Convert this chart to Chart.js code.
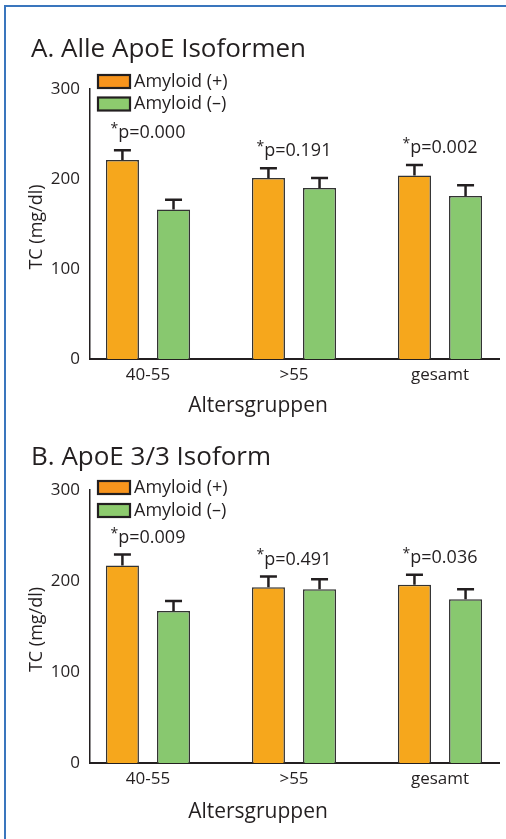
<!DOCTYPE html>
<html><head><meta charset="utf-8">
<script src="https://cdn.jsdelivr.net/npm/chart.js@4.4.0/dist/chart.umd.min.js"></script>
<style>
html,body{margin:0;padding:0;background:#fff;overflow:hidden}
#page{position:relative;width:506px;height:839px;}
#frame{position:absolute;left:4px;top:5px;right:0;bottom:0;border-left:2px solid #3a76bd;border-top:2px solid #3a76bd;}
.c{position:absolute;left:0;width:506px;}
</style></head><body>
<div id="page"><div id="frame"></div>
<div class="c" style="top:0;height:420px"><canvas id="cA"></canvas></div>
<div class="c" style="top:420px;height:419px"><canvas id="cB"></canvas></div>
</div>
<script>
// ---- data ----
const categories = ['40-55', '>55', 'gesamt'];
const seriesNames = ['Amyloid (+)', 'Amyloid (\u2013)'];
const yTicks = [0, 100, 200, 300];

const allPosMean = [221, 201, 204];
const allPosErr  = [11, 11, 11.5];
const allNegMean = [166, 190, 181];
const allNegErr  = [11, 11, 12];
const allPValues = ['0.000', '0.191', '0.002'];

const e33PosMean = [217, 193, 196];
const e33PosErr  = [12, 12, 11];
const e33NegMean = [167, 191, 180];
const e33NegErr  = [11, 11, 11];
const e33PValues = ['0.009', '0.491', '0.036'];

// ---- styling ----
const FONT = "'Open Sans', 'Noto Sans', sans-serif";
const INK = '#231f20';
const ORANGE = '#F6A71C';
const GREEN = '#88C86F';
const ORANGE_LEG = '#F7941D';
const GREEN_LEG = '#8DCB6E';

function makeChart(id, cfg) {
  const ds = (label, means, color) => ({
    label,
    data: means.map((v, i) => ({ x: i, y: v })),
    backgroundColor: color,
    borderColor: '#333',
    borderWidth: 1.5,
    categoryPercentage: 0.7,
    barPercentage: 0.647
  });
  const errs = [cfg.posErr, cfg.negErr];

  const deco = {
    id: 'deco',
    afterDatasetsDraw(chart) {
      const ctx = chart.ctx;
      const ys = chart.scales.y, xs = chart.scales.x;
      ctx.save();
      ctx.strokeStyle = INK;
      ctx.lineWidth = 2.5;
      const errTops = [];
      chart.data.datasets.forEach((d, di) => {
        const meta = chart.getDatasetMeta(di);
        errTops[di] = [];
        meta.data.forEach((bar, i) => {
          const top = ys.getPixelForValue(d.data[i].y + errs[di][i]);
          errTops[di][i] = top;
          ctx.beginPath();
          ctx.moveTo(bar.x, bar.y);
          ctx.lineTo(bar.x, top);
          ctx.moveTo(bar.x - 8.5, top);
          ctx.lineTo(bar.x + 8.5, top);
          ctx.stroke();
        });
      });
      // p-value labels
      ctx.fillStyle = INK;
      ctx.textBaseline = 'middle';
      cfg.pvals.forEach((p, i) => {
        const cx = xs.getPixelForValue(i);
        const cy = errTops[0][i] - 17;
        ctx.font = '14px ' + FONT;
        const sw = ctx.measureText('*').width;
        ctx.font = '18px ' + FONT;
        const txt = 'p=' + p;
        const tw = ctx.measureText(txt).width;
        const x0 = cx - (sw + tw) / 2;
        ctx.font = '14px ' + FONT;
        ctx.textAlign = 'left';
        ctx.fillText('*', x0, cy - 4);
        ctx.font = '18px ' + FONT;
        ctx.fillText(txt, x0 + sw, cy);
      });
      ctx.restore();
    },
    afterDraw(chart) {
      const ctx = chart.ctx;
      const ca = chart.chartArea;
      ctx.save();
      ctx.fillStyle = INK;
      // title
      ctx.font = '26px ' + FONT;
      ctx.textAlign = 'left';
      ctx.textBaseline = 'alphabetic';
      ctx.fillText(cfg.title, 31, cfg.titleBaseline);
      // legend
      const legCols = [ORANGE_LEG, GREEN_LEG];
      ctx.textBaseline = 'middle';
      ctx.font = '18px ' + FONT;
      seriesNames.forEach((n, k) => {
        const cy = cfg.legendY[k];
        ctx.fillStyle = legCols[k];
        ctx.fillRect(98, cy - 6.5, 32, 13);
        ctx.strokeStyle = INK;
        ctx.lineWidth = 2.2;
        ctx.strokeRect(98, cy - 6.5, 32, 13);
        ctx.fillStyle = INK;
        ctx.fillText(n, 134, cy);
      });
      // axis titles
      ctx.font = '21px ' + FONT;
      ctx.textAlign = 'center';
      ctx.fillText('Altersgruppen', 258, cfg.xTitleY);
      ctx.save();
      ctx.translate(37, (ca.top + ca.bottom) / 2 + 3);
      ctx.rotate(-Math.PI / 2);
      ctx.font = '18px ' + FONT;
      ctx.fillText('TC (mg/dl)', 0, 0);
      ctx.restore();
      ctx.restore();
    }
  };

  return new Chart(document.getElementById(id), {
    type: 'bar',
    data: { datasets: [ds(seriesNames[0], cfg.pos, ORANGE), ds(seriesNames[1], cfg.neg, GREEN)] },
    options: {
      responsive: true,
      maintainAspectRatio: false,
      animation: false,
      devicePixelRatio: 1,
      layout: { padding: { top: cfg.areaTop, right: 7, left: 0, bottom: 0 } },
      plugins: { legend: { display: false }, title: { display: false }, tooltip: { enabled: false } },
      scales: {
        x: {
          type: 'linear', min: -0.397, max: 2.404, offset: false,
          grid: { display: false, drawTicks: false, offset: false },
          border: { display: true, color: INK, width: 2 },
          ticks: { padding: 6, color: INK, font: { family: FONT, size: 17 }, callback: v => categories[v] },
          afterBuildTicks: s => { s.ticks = categories.map((c, i) => ({ value: i })); },
          afterFit: s => { s.height = cfg.h - cfg.areaBottom; }
        },
        y: {
          min: yTicks[0], max: yTicks[yTicks.length - 1],
          grid: { display: false, drawTicks: false },
          border: { display: true, color: INK, width: 1.5 },
          ticks: { stepSize: 100, padding: 10, color: INK, font: { family: FONT, size: 17 } },
          afterBuildTicks: s => { s.ticks = yTicks.map(v => ({ value: v })); },
          afterFit: s => { s.width = 90; }
        }
      }
    },
    plugins: [deco]
  });
}

makeChart('cA', {
  title: 'A. Alle ApoE Isoformen', h: 420, areaTop: 89, areaBottom: 359,
  titleBaseline: 57, legendY: [81.5, 104], xTitleY: 406,
  pos: allPosMean, neg: allNegMean, posErr: allPosErr, negErr: allNegErr, pvals: allPValues
});
makeChart('cB', {
  title: 'B. ApoE 3/3 Isoform', h: 419, areaTop: 70, areaBottom: 343,
  titleBaseline: 45, legendY: [67.5, 90.5], xTitleY: 392,
  pos: e33PosMean, neg: e33NegMean, posErr: e33PosErr, negErr: e33NegErr, pvals: e33PValues
});
</script>
</body></html>
